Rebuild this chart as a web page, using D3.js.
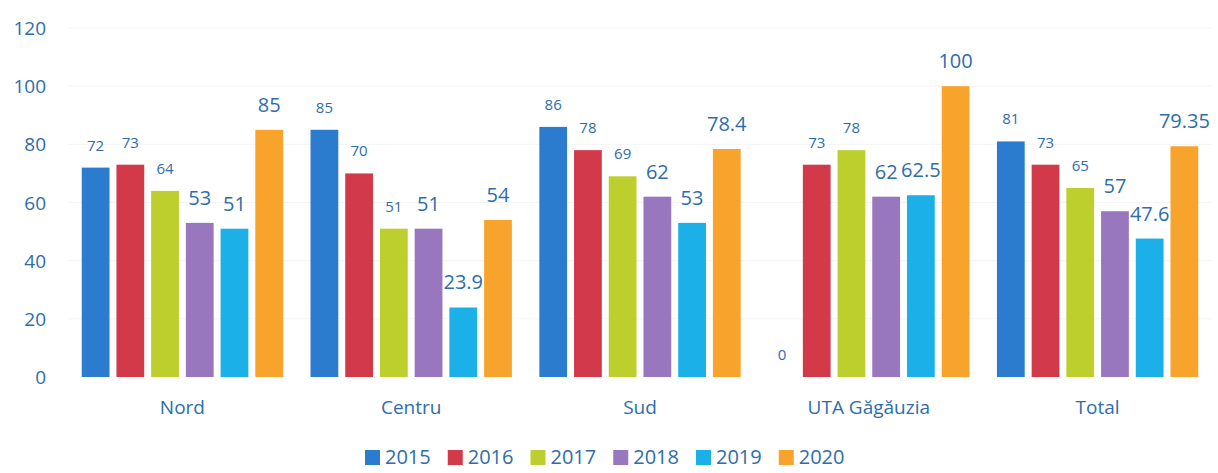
<!DOCTYPE html>
<html>
<head>
<meta charset="utf-8">
<script src="https://cdn.jsdelivr.net/npm/d3@7"></script>
<style>
  html, body { margin: 0; padding: 0; background: #ffffff; }
  svg { display: block; font-family: "Open Sans", sans-serif; }
</style>
</head>
<body>
<svg id="chart" width="1218" height="473"></svg>
<script>
const categories = ["Nord", "Centru", "Sud", "UTA Găgăuzia", "Total"];
const years = ["2015", "2016", "2017", "2018", "2019", "2020"];
const v2015 = [72, 85, 86, 0, 81];
const v2016 = [73, 70, 78, 73, 73];
const v2017 = [64, 51, 69, 78, 65];
const v2018 = [53, 51, 62, 62, 57];
const v2019 = [51, 23.9, 53, 62.5, 47.6];
const v2020 = [85, 54, 78.4, 100, 79.35];
const yTicks = [0, 20, 40, 60, 80, 100, 120];
const colors = ["#2b7bcf", "#d23a4a", "#bccf2c", "#9877be", "#1cb0e8", "#f8a42c"];

const seriesValues = [v2015, v2016, v2017, v2018, v2019, v2020];
const labelColor = "#2e6dab";

const svg = d3.select("#chart");

const x0 = d3.scaleBand().domain(categories).range([68, 1212]).paddingInner(0.12).paddingOuter(0.06);
const x1 = d3.scaleBand().domain(years).range([0, x0.bandwidth()]).paddingInner(0.2).paddingOuter(0);
const y = d3.scaleLinear().domain([0, 120]).range([377, 28]);

// faint gridlines
svg.append("g").selectAll("line").data(yTicks.slice(1)).join("line")
  .attr("x1", 68).attr("x2", 1212)
  .attr("y1", d => y(d)).attr("y2", d => y(d))
  .attr("stroke", "#f4f4f4").attr("stroke-width", 1);

// y axis
const yAxis = d3.axisLeft(y).tickValues(yTicks).tickSize(0).tickPadding(0);
const gy = svg.append("g").attr("transform", "translate(46,0)").call(yAxis);
gy.select(".domain").remove();
gy.selectAll("text").attr("fill", labelColor).attr("font-size", 19)
  .attr("font-family", "'Open Sans', sans-serif").attr("dy", "0.35em");

// x axis labels
const xAxis = d3.axisBottom(x0).tickSize(0).tickPadding(0);
const gx = svg.append("g").attr("transform", "translate(0,400)").call(xAxis);
gx.select(".domain").remove();
gx.selectAll("text").attr("fill", labelColor).attr("font-size", 19)
  .attr("font-family", "'Open Sans', sans-serif").attr("dy", "0.71em");

// bars
const groups = svg.append("g").selectAll("g").data(categories).join("g")
  .attr("transform", d => `translate(${x0(d)},0)`);

groups.each(function(cat, ci) {
  const g = d3.select(this);
  const data = years.map((yr, si) => ({ yr, si, v: seriesValues[si][ci] }));
  g.selectAll("rect").data(data).join("rect")
    .attr("x", d => x1(d.yr))
    .attr("y", d => y(d.v))
    .attr("width", x1.bandwidth())
    .attr("height", d => y(0) - y(d.v))
    .attr("fill", d => colors[d.si]);
  g.selectAll("text").data(data).join("text")
    .attr("x", d => x1(d.yr) + x1.bandwidth() / 2)
    .attr("y", d => y(d.v) - (d.si < 3 ? 17 : 18))
    .attr("text-anchor", "middle")
    .attr("fill", labelColor)
    .attr("font-size", d => d.si < 3 ? 15 : 20)
    .text(d => d.v);
});

// legend
const legend = svg.append("g").attr("transform", "translate(365,457)");
let lx = 0;
years.forEach((yr, i) => {
  const item = legend.append("g").attr("transform", `translate(${lx},0)`);
  item.append("rect").attr("x", 0).attr("y", -7).attr("width", 15).attr("height", 15).attr("fill", colors[i]);
  const t = item.append("text").attr("x", 20).attr("y", 0).attr("dy", "0.35em")
    .attr("fill", labelColor).attr("font-size", 20).text(yr);
  const w = t.node().getComputedTextLength();
  lx += 20 + w + 17;
});
</script>
</body>
</html>
